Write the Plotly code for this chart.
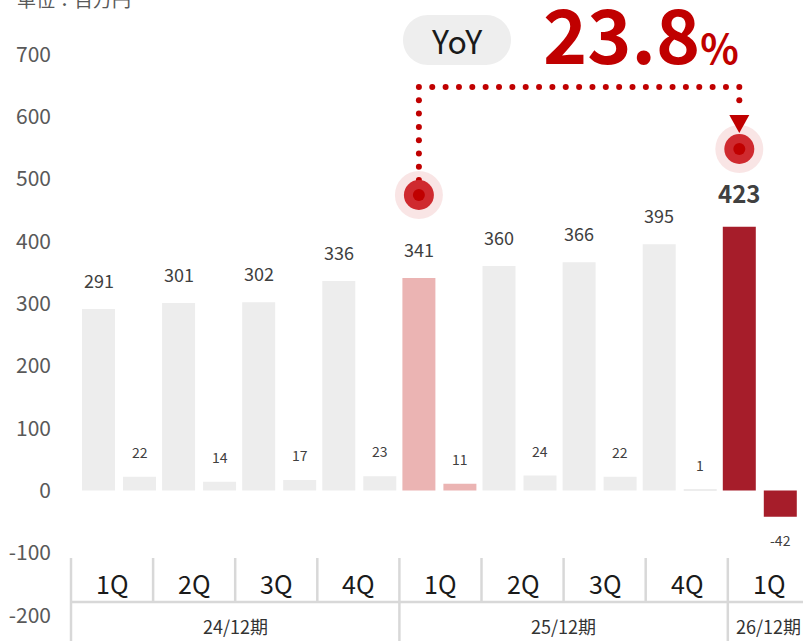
import numpy as np
import plotly.graph_objects as go

# ---------------- data ----------------
quarters = ["1Q", "2Q", "3Q", "4Q", "1Q", "2Q", "3Q", "4Q", "1Q"]
periods = ["24/12期", "25/12期", "26/12期"]
period_spans = [4, 4, 1]
main_values = [291, 301, 302, 336, 341, 360, 366, 395, 423]
sub_values = [22, 14, 17, 23, 11, 24, 22, 1, -42]
yticks = [-200, -100, 0, 100, 200, 300, 400, 500, 600, 700]
unit_label = "単位：百万円"
yoy_label = "YoY"
yoy_value = "23.8"
base_idx, current_idx = 4, 8

# ---------------- styling / layout ----------------
GRAY, PINK, DARK = "#EDEDED", "#EBB4B3", "#A61D2A"
bar_colors = [GRAY] * len(main_values)
bar_colors[base_idx] = PINK
bar_colors[current_idx] = DARK
RED = "#C00000"
FONT = "Noto Sans CJK JP"

W, H = 803, 641
ML = 72
X0_PX, X_STEP = 98.5, 80.1      # pixel of first main bar centre, pixels per category
Y0_PX, Y_SCALE = 490.5, 0.6233  # pixel of value 0, pixels per unit
BAR_W = 33.0
SUB_DX = 41.0

def px_x(xv):
    return X0_PX + xv * X_STEP

def xd(px):
    return (px - X0_PX) / X_STEP

def yd(py):
    return (Y0_PX - py) / Y_SCALE

def xp(px):
    return (px - ML) / (W - ML)

def yp(py):
    return 1 - py / H

x_range = [xd(ML), xd(W)]
y_range = [yd(H), yd(0)]

idx = np.arange(len(main_values))
fig = go.Figure()

# decorations drawn under traces: arrow head + pill
shapes = []
rx = px_x(current_idx)
tri = [(rx - 10, 115), (rx + 10, 115), (rx, 133)]
shapes.append(dict(type="path", xref="paper", yref="paper", layer="below",
                   path="M {} {} L {} {} L {} {} Z".format(
                       xp(tri[0][0]), yp(tri[0][1]), xp(tri[1][0]), yp(tri[1][1]),
                       xp(tri[2][0]), yp(tri[2][1])),
                   fillcolor=RED, line=dict(width=0)))

x1, x2, y1, y2 = 403, 511, 15, 65
r = (y2 - y1) / 2
yc = (y1 + y2) / 2
k = 0.5523 * r
pts = [
    ("M", [(x1 + r, y1)]),
    ("L", [(x2 - r, y1)]),
    ("C", [(x2 - r + k, y1), (x2, yc - k), (x2, yc)]),
    ("C", [(x2, yc + k), (x2 - r + k, y2), (x2 - r, y2)]),
    ("L", [(x1 + r, y2)]),
    ("C", [(x1 + r - k, y2), (x1, yc + k), (x1, yc)]),
    ("C", [(x1, yc - k), (x1 + r - k, y1), (x1 + r, y1)]),
]
path = " ".join(cmd + " " + " ".join("{:.5f},{:.5f}".format(xp(a), yp(b)) for a, b in p)
                for cmd, p in pts) + " Z"
shapes.append(dict(type="path", xref="paper", yref="paper", layer="below",
                   path=path, fillcolor="#EEEEEE", line=dict(width=0)))

# table lines
LINE = dict(color="#D8D8D8", width=2.5)
TX0, TSTEP = 71.0, 82.1
for c in range(len(quarters) + 1):
    x = TX0 + TSTEP * c
    if x <= W:
        shapes.append(dict(type="line", xref="paper", yref="paper",
                           x0=xp(x), x1=xp(x), y0=yp(558), y1=yp(602), line=LINE))
cum = np.concatenate([[0], np.cumsum(period_spans)])
for c in cum:
    x = TX0 + TSTEP * c
    if x <= W:
        shapes.append(dict(type="line", xref="paper", yref="paper",
                           x0=xp(x), x1=xp(x), y0=yp(602), y1=yp(H + 2), line=LINE))
shapes.append(dict(type="line", xref="paper", yref="paper",
                   x0=xp(TX0 - 1), x1=xp(W + 5), y0=yp(602), y1=yp(602), line=LINE))

# bars
fig.add_bar(x=idx, y=main_values, width=BAR_W / X_STEP, offset=-BAR_W / 2 / X_STEP,
            marker=dict(color=bar_colors, line=dict(width=0)), hoverinfo="skip")
fig.add_bar(x=idx, y=sub_values, width=BAR_W / X_STEP,
            offset=(SUB_DX - BAR_W / 2) / X_STEP,
            marker=dict(color=bar_colors, line=dict(width=0)), hoverinfo="skip")

# dotted connector
lx = px_x(base_idx)
top = 87
step = 13.3
n_h = int(round((rx - lx) / step))
hx = list(np.linspace(lx, rx, n_h + 1))
hy = [top] * len(hx)
vl_y = list(top + step * np.arange(1, 8))
vr_y = [top + step]
dots_x = hx + [lx] * len(vl_y) + [rx] * len(vr_y)
dots_y = hy + vl_y + vr_y
fig.add_scatter(x=[xd(v) for v in dots_x], y=[yd(v) for v in dots_y], mode="markers",
                marker=dict(size=6, color=RED, line=dict(width=0)), hoverinfo="skip")

# target circles
cx = [xd(lx), xd(rx)]
cy = [yd(195), yd(149)]
for size, color in [(48, "rgba(192,0,0,0.10)"), (30, "#CF2A2F"), (12, RED)]:
    fig.add_scatter(x=cx, y=cy, mode="markers",
                    marker=dict(size=size, color=color, line=dict(width=0)),
                    hoverinfo="skip")

# annotations
ann = []
for i, v in enumerate(main_values):
    last = i == current_idx
    ann.append(dict(x=i, y=v, xref="x", yref="y", text=("<b>%d</b>" % v) if last else str(v),
                    showarrow=False, yanchor="middle", yshift=34 if last else 29,
                    font=dict(family=FONT, size=24 if last else 18, color="#404040")))
for i, v in enumerate(sub_values):
    ann.append(dict(x=i + SUB_DX / X_STEP, y=v, xref="x", yref="y", text=str(v),
                    showarrow=False, yanchor="middle", yshift=25 if v >= 0 else -23,
                    font=dict(family=FONT, size=14, color="#404040")))
for c, q in enumerate(quarters):
    ann.append(dict(x=xp(TX0 + TSTEP * (c + 0.5)), y=yp(583), xref="paper", yref="paper",
                    text=q, showarrow=False, xanchor="center", yanchor="middle",
                    font=dict(family=FONT, size=25, color="#1A1A1A")))
for j, p in enumerate(periods):
    cxp = TX0 + TSTEP * (cum[j] + period_spans[j] / 2)
    ann.append(dict(x=xp(cxp), y=yp(626), xref="paper", yref="paper", text=p,
                    showarrow=False, xanchor="center", yanchor="middle",
                    font=dict(family=FONT, size=18, color="#333333")))
ann.append(dict(x=xp(15), y=1, xref="paper", yref="paper", text=unit_label,
                showarrow=False, xanchor="left", yanchor="middle", yshift=2,
                font=dict(family=FONT, size=19, color="#595959")))
ann.append(dict(x=xp((x1 + x2) / 2), y=yp(yc), xref="paper", yref="paper", text=yoy_label,
                showarrow=False, xanchor="center", yanchor="middle",
                font=dict(family=FONT, size=32, color="#1A1A1A")))
ann.append(dict(x=xp(541), y=yp(31), xref="paper", yref="paper",
                text="<b>%s</b><span style='font-size:40px'><b>%%</b></span>" % yoy_value,
                showarrow=False, xanchor="left", yanchor="middle",
                font=dict(family=FONT, size=75, color=RED)))

fig.update_layout(
    width=W, height=H,
    margin=dict(l=ML, r=0, t=0, b=0, pad=0),
    paper_bgcolor="white", plot_bgcolor="white",
    barmode="overlay", showlegend=False,
    shapes=shapes, annotations=ann,
    xaxis=dict(range=x_range, visible=False, fixedrange=True),
    yaxis=dict(range=y_range, tickvals=yticks, ticktext=[str(t) for t in yticks],
               showgrid=False, zeroline=False, showline=False, ticks="",
               ticklabelstandoff=20, fixedrange=True,
               tickfont=dict(family=FONT, size=21, color="#595959")),
)

fig.write_html("out.html", config={"displayModeBar": False})
